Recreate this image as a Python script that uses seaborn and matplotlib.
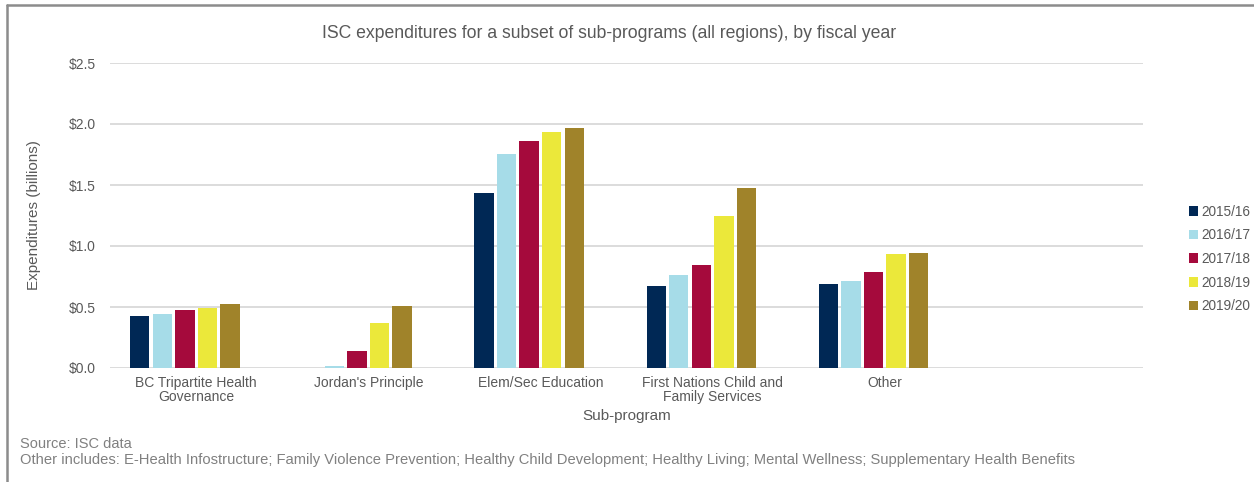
import matplotlib
matplotlib.use("Agg")
import matplotlib.pyplot as plt
from matplotlib.patches import Patch
from matplotlib.lines import Line2D
import seaborn as sns
import pandas as pd

# Sub-programs and fiscal years
categories = [
    "BC Tripartite Health\nGovernance",
    "Jordan's Principle",
    "Elem/Sec Education",
    "First Nations Child and\nFamily Services",
    "Other",
]
years = ["2015/16", "2016/17", "2017/18", "2018/19", "2019/20"]

# Expenditures in $ billions, one list per fiscal year (same order as categories)
fy2015 = [0.426, 0.0, 1.436, 0.676, 0.689]
fy2016 = [0.443, 0.019, 1.751, 0.763, 0.714]
fy2017 = [0.473, 0.139, 1.860, 0.843, 0.786]
fy2018 = [0.494, 0.369, 1.934, 1.247, 0.938]
fy2019 = [0.522, 0.511, 1.969, 1.472, 0.943]

colors = ["#002855", "#a6dce8", "#a50a3c", "#ebe83a", "#a0832a"]
yticks = [0.0, 0.5, 1.0, 1.5, 2.0, 2.5]

series = [fy2015, fy2016, fy2017, fy2018, fy2019]
rows = []
for yr, vals in zip(years, series):
    for cat, v in zip(categories, vals):
        rows.append({"Sub-program": cat, "Year": yr, "Value": v})
df = pd.DataFrame(rows)

sns.set_theme(style="white")
plt.rcParams["font.family"] = ["Liberation Sans", "DejaVu Sans"]
TXT = "#595959"

fig = plt.figure(figsize=(12.54, 4.82), dpi=100)
ax = fig.add_axes([110 / 1254, 1 - 368 / 482, (1143 - 110) / 1254, (368 - 63) / 482])

# an extra empty category slot and an empty sixth series slot, as in the workbook layout
order = categories + [" "]
hue_order = years + ["  "]
palette = dict(zip(hue_order, colors + ["#ffffff"]))

sns.barplot(
    data=df, x="Sub-program", y="Value", hue="Year",
    order=order, hue_order=hue_order, palette=palette,
    width=0.785, gap=0.14, linewidth=0,
    saturation=1, errorbar=None, ax=ax, legend=False,
)

ax.set_ylim(0, 2.5)
ax.set_xlim(-0.5, len(order) - 0.5)
ax.set_yticks(yticks)
ax.set_yticklabels([f"${t:.1f}" for t in yticks])
ax.yaxis.grid(True, color="#d9d9d9", linewidth=1.3)
ax.set_axisbelow(True)
for s in ax.spines.values():
    s.set_visible(False)
ax.tick_params(axis="both", length=0, colors=TXT, labelsize=10)
ax.tick_params(axis="y", pad=10)
ax.tick_params(axis="x", pad=6)
for lbl in ax.get_xticklabels():
    lbl.set_linespacing(0.95)

ax.set_xlabel("Sub-program", color=TXT, fontsize=11, labelpad=4)
ax.set_ylabel("Expenditures (billions)", color=TXT, fontsize=11, labelpad=20)

fig.text(609 / 1254, 1 - 33 / 482, "ISC expenditures for a subset of sub-programs (all regions), by fiscal year",
         ha="center", va="center", color=TXT, fontsize=12.7)

handles = [Patch(facecolor=c, edgecolor="none") for c in colors]
fig.legend(handles, years, loc="center left", bbox_to_anchor=(1182 / 1254, 1 - 259 / 482),
           frameon=False, fontsize=9.8, handlelength=0.7, handleheight=0.7,
           handletextpad=0.2, labelspacing=0.7, labelcolor=TXT, borderpad=0)

fig.text(20 / 1254, 1 - 444 / 482, "Source: ISC data", ha="left", va="center", color="#808080", fontsize=10.5)
fig.text(20 / 1254, 1 - 460 / 482,
         "Other includes: E-Health Infostructure; Family Violence Prevention; Healthy Child Development; "
         "Healthy Living; Mental Wellness; Supplementary Health Benefits",
         ha="left", va="center", color="#808080", fontsize=10.6)

# chart-area frame (top and left edges)
fig.add_artist(Line2D([7 / 1254, 7 / 1254], [0, 1 - 5 / 482], transform=fig.transFigure,
                      color="#8c8c8c", linewidth=1.8))
fig.add_artist(Line2D([7 / 1254, 1], [1 - 5 / 482, 1 - 5 / 482], transform=fig.transFigure,
                      color="#8c8c8c", linewidth=1.8))

fig.savefig("out.png", dpi=100)
